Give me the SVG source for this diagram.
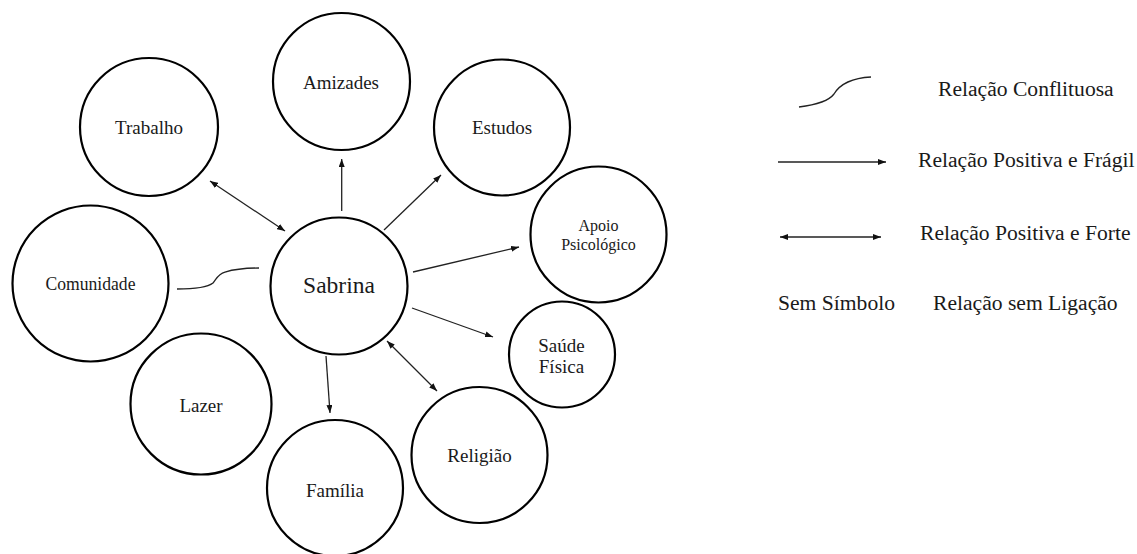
<svg xmlns="http://www.w3.org/2000/svg" width="1137" height="554" viewBox="0 0 1137 554">
<style>
.node{fill:#fff;stroke:#000;stroke-width:2.2}
text{font-family:'Liberation Serif','Times New Roman',Times,'DejaVu Serif',serif;fill:#1a1a1a}
.lbl{font-size:19px;text-anchor:middle}
.leg{font-size:21.6px}
.ln{stroke:#222;stroke-width:1.3;fill:none}
.one{marker-end:url(#ah)}
.two{marker-start:url(#ah);marker-end:url(#ah)}
</style>
<defs>
<marker id="ah" viewBox="0 0 8 6" refX="8" refY="3" markerWidth="8" markerHeight="6" markerUnits="userSpaceOnUse" orient="auto-start-reverse">
<path d="M0,0 L8,3 L0,6 z" fill="#111"/>
</marker>
</defs>
<rect width="1137" height="554" fill="#fff"/>
<g id="connectors">
<line class="ln one" x1="341.7" y1="211" x2="341.7" y2="159"/>
<line class="ln two" x1="210" y1="181" x2="285" y2="231"/>
<line class="ln one" x1="384" y1="230" x2="441" y2="175"/>
<line class="ln one" x1="413" y1="272" x2="519" y2="247"/>
<line class="ln one" x1="412" y1="308" x2="493" y2="337"/>
<line class="ln two" x1="387" y1="341" x2="437" y2="391"/>
<line class="ln one" x1="326" y1="356" x2="330" y2="413"/>
<path class="ln" d="M177,289 C195,289 208,287 213,283 C217,278 218,274 225,272 C235,269 248,268 259,268"/>
</g>
<g id="node-amizades"><circle class="node" cx="341.5" cy="81.5" r="68.5"/><text class="lbl" font-family="Liberation Serif, serif" x="341" y="89.3">Amizades</text></g>
<g id="node-trabalho"><circle class="node" cx="149" cy="127" r="69"/><text class="lbl" x="149" y="134.3">Trabalho</text></g>
<g id="node-estudos"><circle class="node" cx="502" cy="127.5" r="68"/><text class="lbl" x="502" y="134">Estudos</text></g>
<g id="node-apoio"><circle class="node" cx="598.5" cy="234.5" r="68"/><text class="lbl" x="598.5" y="231" style="font-size:16px">Apoio</text><text class="lbl" x="598.5" y="250" style="font-size:16px">Psicológico</text></g>
<g id="node-comunidade"><circle class="node" cx="90.5" cy="283.5" r="78"/><text class="lbl" x="90.5" y="290" textLength="90" lengthAdjust="spacingAndGlyphs">Comunidade</text></g>
<g id="node-sabrina"><circle class="node" cx="339" cy="286" r="68.5"/><text class="lbl" x="339" y="293" style="font-size:23.5px">Sabrina</text></g>
<g id="node-saude"><circle class="node" cx="562" cy="354.5" r="53"/><text class="lbl" x="561.5" y="352">Saúde</text><text class="lbl" x="561.5" y="373">Física</text></g>
<g id="node-lazer"><circle class="node" cx="201" cy="404" r="70.5"/><text class="lbl" x="201" y="412">Lazer</text></g>
<g id="node-religiao"><circle class="node" cx="479.5" cy="455" r="68"/><text class="lbl" x="479.5" y="462">Religião</text></g>
<g id="node-familia"><circle class="node" cx="335" cy="488" r="68"/><text class="lbl" x="335" y="497">Família</text></g>
<g id="legend">
<path class="ln" d="M799,107 C815,105 828,102 834,94 C840,84 852,78 871,77"/>
<text class="leg" x="938" y="96">Relação Conflituosa</text>
<line class="ln one" x1="778" y1="162" x2="886" y2="162"/>
<text class="leg" x="918" y="167">Relação Positiva e Frágil</text>
<line class="ln two" x1="780" y1="237" x2="881" y2="237"/>
<text class="leg" x="920" y="240">Relação Positiva e Forte</text>
<text class="leg" x="778" y="310">Sem Símbolo</text>
<text class="leg" x="933" y="310">Relação sem Ligação</text>
</g>
</svg>
